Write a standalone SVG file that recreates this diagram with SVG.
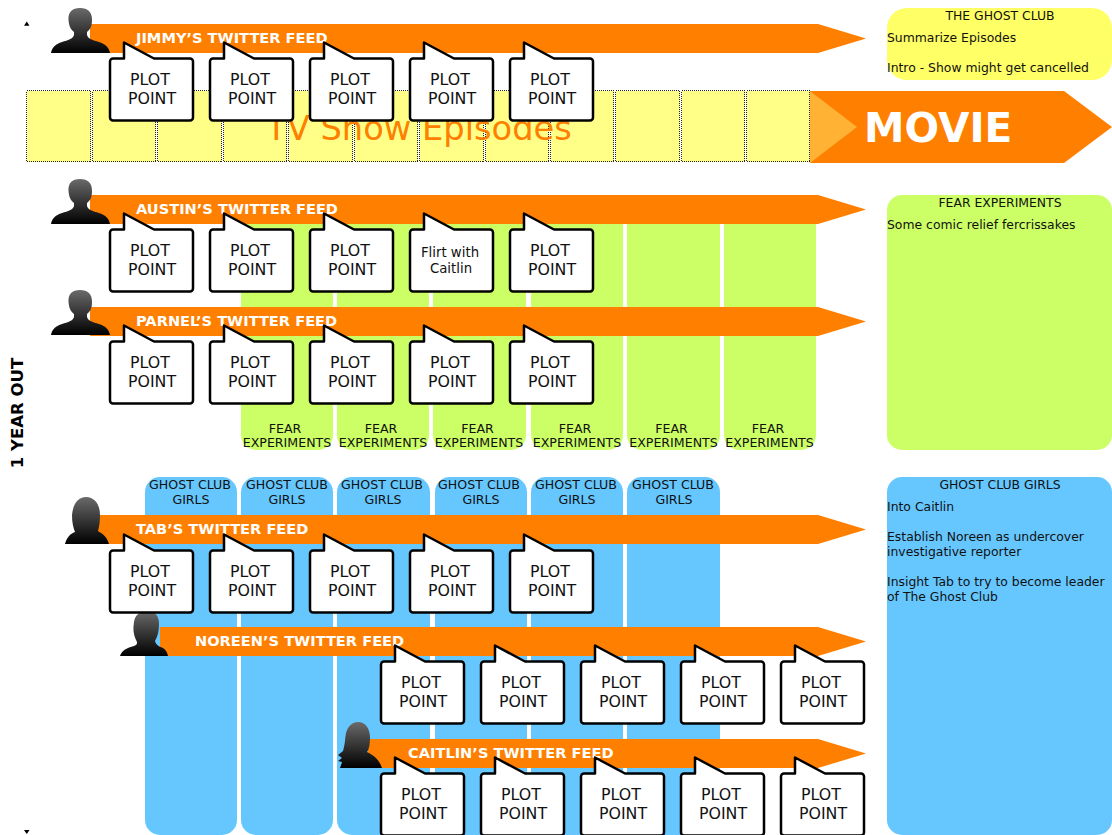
<svg xmlns="http://www.w3.org/2000/svg" xmlns:xlink="http://www.w3.org/1999/xlink" width="1112" height="835" viewBox="0 0 1112 835">
<style>
text{font-family:"DejaVu Sans","Liberation Sans",sans-serif;fill:#111}
.pp{font-size:15.8px;text-anchor:middle}
.shape{fill:#fff;stroke:#000;stroke-width:2.500;stroke-linejoin:round}
.feed{fill:#ff7f00}
.ft{font-size:14.600px;font-weight:bold;fill:#fff}
.cell{fill:#ffff88;stroke:#222;stroke-width:1;stroke-dasharray:1 1;shape-rendering:crispEdges}
.gc{fill:#ccff66}
.bc{fill:#66c7ff}
.cl{font-size:12.600px;text-anchor:middle}
.pt{font-size:12.400px}
.pc{font-size:12.400px;text-anchor:middle}
.per{fill:url(#pg)}
</style>
<defs>
<linearGradient id="pg" x1="0" y1="0" x2="0" y2="1"><stop offset="0" stop-color="#6a6a6a"/><stop offset="1" stop-color="#000"/></linearGradient>
<path id="plot" class="shape" d="M3,58.500H14V42.500L44,58.500H80a3,3 0 0 1 3,3V117.500a3,3 0 0 1-3,3H3a3,3 0 0 1-3-3V61.500a3,3 0 0 1 3-3Z"/>
<path id="arrow" class="feed" d="M0,0H728L776,14.500L728,29H0Z"/>
<path id="male" class="per" d="M51,53C52,47 56,44 62,42C68,40 73,39 74,35L74,32C70,29 69,25 68.500,20C68,12 72,8 80,8C88,8 92,12 92,20C92,25 91,29 87,32L87,35C88,39 93,40 99,42C105,44 109,47 110,53Z"/>
</defs>
<g id="timeline">
<path d="M24,25.700L26.800,21.500L29.500,25.700Z" fill="#000"/>
<path d="M24,830L26.800,834L29.500,830Z" fill="#000"/>
<text transform="translate(23,413) rotate(-90)" text-anchor="middle" font-size="16.500" font-weight="bold" style="fill:#000">1 YEAR OUT</text>
</g>
<g id="tv-episodes">
<rect class="cell" x="26.500" y="90.500" width="64" height="71"/><rect class="cell" x="92.500" y="90.500" width="63" height="71"/><rect class="cell" x="157.500" y="90.500" width="64" height="71"/><rect class="cell" x="223.500" y="90.500" width="63" height="71"/><rect class="cell" x="288.500" y="90.500" width="64" height="71"/><rect class="cell" x="354.500" y="90.500" width="63" height="71"/><rect class="cell" x="419.500" y="90.500" width="64" height="71"/><rect class="cell" x="485.500" y="90.500" width="63" height="71"/><rect class="cell" x="550.500" y="90.500" width="63" height="71"/><rect class="cell" x="615.500" y="90.500" width="64" height="71"/><rect class="cell" x="681.500" y="90.500" width="63" height="71"/><rect class="cell" x="746.500" y="90.500" width="63" height="71"/>
<text x="419" y="140" font-size="33.700" text-anchor="middle" style="fill:#ff7f00">TV Show Episodes</text>
</g>
<g id="movie">
<path class="feed" d="M810,91H1064L1112,127L1064,163H810Z"/>
<path d="M810,91L857,127L810,163Z" fill="#ffb233"/>
<text x="864" y="142" font-size="40.700" font-weight="bold" style="fill:#fff">MOVIE</text>
</g>
<g id="fear-columns">
<rect class="gc" x="241" y="200" width="92" height="250" rx="15"/><rect class="gc" x="337" y="200" width="92" height="250" rx="15"/><rect class="gc" x="433" y="200" width="93" height="250" rx="15"/><rect class="gc" x="531" y="200" width="92" height="250" rx="15"/><rect class="gc" x="627" y="200" width="93" height="250" rx="15"/><rect class="gc" x="724" y="200" width="92" height="250" rx="15"/>
<text class="cl" x="285" y="433">FEAR</text><text class="cl" x="287" y="447">EXPERIMENTS</text>
<text class="cl" x="381" y="433">FEAR</text><text class="cl" x="383" y="447">EXPERIMENTS</text>
<text class="cl" x="477.500" y="433">FEAR</text><text class="cl" x="479" y="447">EXPERIMENTS</text>
<text class="cl" x="575" y="433">FEAR</text><text class="cl" x="577" y="447">EXPERIMENTS</text>
<text class="cl" x="671.500" y="433">FEAR</text><text class="cl" x="673.500" y="447">EXPERIMENTS</text>
<text class="cl" x="768" y="433">FEAR</text><text class="cl" x="769.500" y="447">EXPERIMENTS</text>
</g>
<g id="ghost-columns">
<rect class="bc" x="145" y="477" width="92" height="358" rx="15"/><rect class="bc" x="241" y="477" width="92" height="358" rx="15"/><rect class="bc" x="337" y="477" width="93" height="358" rx="15"/><rect class="bc" x="435" y="477" width="92" height="358" rx="15"/><rect class="bc" x="531" y="477" width="92" height="358" rx="15"/><rect class="bc" x="627" y="477" width="93" height="358" rx="15"/>
<text class="cl" x="190" y="489">GHOST CLUB</text><text class="cl" x="191" y="504">GIRLS</text>
<text class="cl" x="287" y="489">GHOST CLUB</text><text class="cl" x="287" y="504">GIRLS</text>
<text class="cl" x="382" y="489">GHOST CLUB</text><text class="cl" x="383" y="504">GIRLS</text>
<text class="cl" x="479" y="489">GHOST CLUB</text><text class="cl" x="481" y="504">GIRLS</text>
<text class="cl" x="576" y="489">GHOST CLUB</text><text class="cl" x="577" y="504">GIRLS</text>
<text class="cl" x="673" y="489">GHOST CLUB</text><text class="cl" x="674" y="504">GIRLS</text>
</g>
<g id="panel-ghost-club">
<rect x="887" y="8" width="225" height="72" rx="20" fill="#ffff66"/>
<text class="pc" x="1000" y="20">THE GHOST CLUB</text>
<text class="pt" x="887" y="42">Summarize Episodes</text>
<text class="pt" x="887" y="72">Intro - Show might get cancelled</text>
</g>
<g id="panel-fear">
<rect x="887" y="195" width="225" height="255" rx="15" fill="#ccff66"/>
<text class="pc" x="1000" y="207">FEAR EXPERIMENTS</text>
<text class="pt" x="887" y="229">Some comic relief fercrissakes</text>
</g>
<g id="panel-girls">
<rect x="887" y="477" width="225" height="358" rx="15" fill="#66c7ff"/>
<text class="pc" x="1000" y="489">GHOST CLUB GIRLS</text>
<text class="pt" x="887" y="511">Into Caitlin</text>
<text class="pt" x="887" y="541">Establish Noreen as undercover</text>
<text class="pt" x="887" y="556">investigative reporter</text>
<text class="pt" x="887" y="586">Insight Tab to try to become leader</text>
<text class="pt" x="887" y="601">of The Ghost Club</text>
</g>
<g id="feed-jimmy">
<use href="#arrow" x="90" y="24"/><use href="#male"/>
<text class="ft" x="136" y="43">JIMMY’S TWITTER FEED</text>
</g>
<g id="feed-austin">
<use href="#arrow" x="90" y="195"/><use href="#male" y="171"/>
<text class="ft" x="136" y="214">AUSTIN’S TWITTER FEED</text>
</g>
<g id="feed-parnel">
<use href="#arrow" x="90" y="307"/><use href="#male" y="282"/>
<text class="ft" x="136" y="326">PARNEL’S TWITTER FEED</text>
</g>
<g id="feed-tab">
<use href="#arrow" x="90" y="515"/>
<path class="per" d="M65,544C67,537 70,534 75,532C73,527 72,522 72,515C73,504 78,497 86,497C95,497 100,505 100,515C100,522 99,527 98,531C103,534 107,537 109,544Z"/>
<text class="ft" x="136" y="534">TAB’S TWITTER FEED</text>
</g>
<g id="feed-noreen">
<path class="feed" d="M160,627H818L866,641.500L818,656H160Z"/>
<path class="per" d="M120,656C122,650 127,648 134,646C137,645 138,643 136,640C133,634 133,628 134,622C135,615 140,611 147,611C155,611 159,616 159,624C159,630 158,636 155,641C156,645 160,647 163,648C166,650 167,652 168,656Z"/>
<text class="ft" x="195" y="646">NOREEN’S TWITTER FEED</text>
</g>
<g id="feed-caitlin">
<path class="feed" d="M368,739H818L866,753.500L818,768H368Z"/>
<path class="per" d="M340,768L342,762L338,761L342,758L338,755L343,751C345,745 345,738 346,733C348,726 352,722 358,722C366,722 370,729 370,738C370,744 369,749 367,752C373,755 379,759 382,768Z"/>
<text class="ft" x="408" y="758">CAITLIN’S TWITTER FEED</text>
</g>
<g id="plot-jimmy-1"><use href="#plot" x="110"/><text class="pp"><tspan x="150" y="85">PLOT</tspan><tspan x="152" y="104">POINT</tspan></text></g>
<g id="plot-jimmy-2"><use href="#plot" x="210"/><text class="pp"><tspan x="250" y="85">PLOT</tspan><tspan x="252" y="104">POINT</tspan></text></g>
<g id="plot-jimmy-3"><use href="#plot" x="310"/><text class="pp"><tspan x="350" y="85">PLOT</tspan><tspan x="352" y="104">POINT</tspan></text></g>
<g id="plot-jimmy-4"><use href="#plot" x="410"/><text class="pp"><tspan x="450" y="85">PLOT</tspan><tspan x="452" y="104">POINT</tspan></text></g>
<g id="plot-jimmy-5"><use href="#plot" x="510"/><text class="pp"><tspan x="550" y="85">PLOT</tspan><tspan x="552" y="104">POINT</tspan></text></g>
<g id="plot-austin-1"><use href="#plot" x="110" y="171"/><text class="pp"><tspan x="150" y="256">PLOT</tspan><tspan x="152" y="275">POINT</tspan></text></g>
<g id="plot-austin-2"><use href="#plot" x="210" y="171"/><text class="pp"><tspan x="250" y="256">PLOT</tspan><tspan x="252" y="275">POINT</tspan></text></g>
<g id="plot-austin-3"><use href="#plot" x="310" y="171"/><text class="pp"><tspan x="350" y="256">PLOT</tspan><tspan x="352" y="275">POINT</tspan></text></g>
<g id="plot-austin-4"><use href="#plot" x="410" y="171"/><text class="pp" style="font-size:13.300px"><tspan x="450" y="257">Flirt with</tspan><tspan x="451" y="273">Caitlin</tspan></text></g>
<g id="plot-austin-5"><use href="#plot" x="510" y="171"/><text class="pp"><tspan x="550" y="256">PLOT</tspan><tspan x="552" y="275">POINT</tspan></text></g>
<g id="plot-parnel-1"><use href="#plot" x="110" y="283"/><text class="pp"><tspan x="150" y="368">PLOT</tspan><tspan x="152" y="387">POINT</tspan></text></g>
<g id="plot-parnel-2"><use href="#plot" x="210" y="283"/><text class="pp"><tspan x="250" y="368">PLOT</tspan><tspan x="252" y="387">POINT</tspan></text></g>
<g id="plot-parnel-3"><use href="#plot" x="310" y="283"/><text class="pp"><tspan x="350" y="368">PLOT</tspan><tspan x="352" y="387">POINT</tspan></text></g>
<g id="plot-parnel-4"><use href="#plot" x="410" y="283"/><text class="pp"><tspan x="450" y="368">PLOT</tspan><tspan x="452" y="387">POINT</tspan></text></g>
<g id="plot-parnel-5"><use href="#plot" x="510" y="283"/><text class="pp"><tspan x="550" y="368">PLOT</tspan><tspan x="552" y="387">POINT</tspan></text></g>
<g id="plot-tab-1"><use href="#plot" x="110" y="492"/><text class="pp"><tspan x="150" y="577">PLOT</tspan><tspan x="152" y="596">POINT</tspan></text></g>
<g id="plot-tab-2"><use href="#plot" x="210" y="492"/><text class="pp"><tspan x="250" y="577">PLOT</tspan><tspan x="252" y="596">POINT</tspan></text></g>
<g id="plot-tab-3"><use href="#plot" x="310" y="492"/><text class="pp"><tspan x="350" y="577">PLOT</tspan><tspan x="352" y="596">POINT</tspan></text></g>
<g id="plot-tab-4"><use href="#plot" x="410" y="492"/><text class="pp"><tspan x="450" y="577">PLOT</tspan><tspan x="452" y="596">POINT</tspan></text></g>
<g id="plot-tab-5"><use href="#plot" x="510" y="492"/><text class="pp"><tspan x="550" y="577">PLOT</tspan><tspan x="552" y="596">POINT</tspan></text></g>
<g id="plot-noreen-1"><use href="#plot" x="381" y="603"/><text class="pp"><tspan x="421" y="688">PLOT</tspan><tspan x="423" y="707">POINT</tspan></text></g>
<g id="plot-noreen-2"><use href="#plot" x="481" y="603"/><text class="pp"><tspan x="521" y="688">PLOT</tspan><tspan x="523" y="707">POINT</tspan></text></g>
<g id="plot-noreen-3"><use href="#plot" x="581" y="603"/><text class="pp"><tspan x="621" y="688">PLOT</tspan><tspan x="623" y="707">POINT</tspan></text></g>
<g id="plot-noreen-4"><use href="#plot" x="681" y="603"/><text class="pp"><tspan x="721" y="688">PLOT</tspan><tspan x="723" y="707">POINT</tspan></text></g>
<g id="plot-noreen-5"><use href="#plot" x="781" y="603"/><text class="pp"><tspan x="821" y="688">PLOT</tspan><tspan x="823" y="707">POINT</tspan></text></g>
<g id="plot-caitlin-1"><use href="#plot" x="381" y="715"/><text class="pp"><tspan x="421" y="800">PLOT</tspan><tspan x="423" y="819">POINT</tspan></text></g>
<g id="plot-caitlin-2"><use href="#plot" x="481" y="715"/><text class="pp"><tspan x="521" y="800">PLOT</tspan><tspan x="523" y="819">POINT</tspan></text></g>
<g id="plot-caitlin-3"><use href="#plot" x="581" y="715"/><text class="pp"><tspan x="621" y="800">PLOT</tspan><tspan x="623" y="819">POINT</tspan></text></g>
<g id="plot-caitlin-4"><use href="#plot" x="681" y="715"/><text class="pp"><tspan x="721" y="800">PLOT</tspan><tspan x="723" y="819">POINT</tspan></text></g>
<g id="plot-caitlin-5"><use href="#plot" x="781" y="715"/><text class="pp"><tspan x="821" y="800">PLOT</tspan><tspan x="823" y="819">POINT</tspan></text></g>
</svg>
